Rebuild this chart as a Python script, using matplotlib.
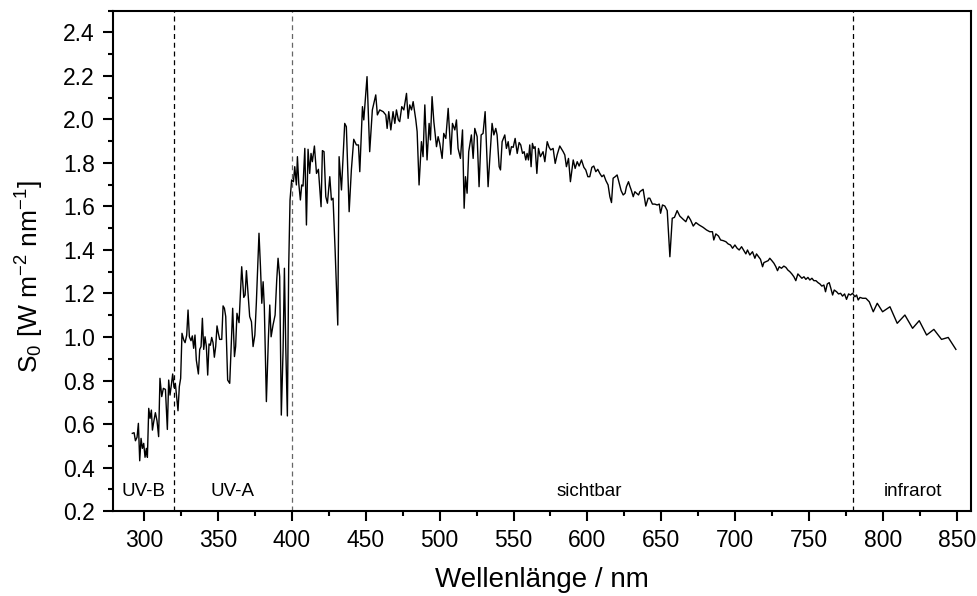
import matplotlib
matplotlib.use('Agg')
import matplotlib.pyplot as plt
from matplotlib.ticker import MultipleLocator, FormatStrFormatter

plt.rcParams['font.family'] = ['Liberation Sans', 'DejaVu Sans']
plt.rcParams['mathtext.default'] = 'regular'

# wavelength in nm
wavelength = [
    292.1, 293.3, 294.2, 295.3, 296.2, 297.1, 298.0, 298.9, 299.8, 300.7,
    301.6, 302.3, 303.2, 304.1, 305.0, 305.7, 306.6, 307.7, 308.8, 309.9,
    310.8, 312.0, 313.1, 314.5, 315.8, 316.7, 317.6, 318.5, 319.4, 320.3,
    321.2, 322.1, 323.0, 323.9, 324.8, 325.7, 326.9, 327.8, 328.9, 329.8,
    330.7, 331.8, 332.7, 333.6, 334.5, 335.4, 336.8, 337.7, 338.6, 339.5,
    340.4, 341.3, 342.2, 343.1, 344.0, 344.9, 345.8, 346.7, 347.6, 348.5,
    349.4, 350.3, 351.2, 352.6, 353.5, 354.4, 355.3, 356.6, 358.0, 358.9,
    360.0, 361.2, 362.0, 362.9, 364.3, 365.2, 366.1, 367.5, 368.4, 369.3,
    370.4, 371.5, 372.7, 373.8, 375.0, 376.0, 376.9, 377.8, 378.8, 379.7,
    380.6, 381.4, 382.8, 384.2, 385.1, 386.0, 387.3, 388.7, 389.8, 390.7,
    391.8, 392.9, 394.1, 395.0, 395.9, 397.0, 397.9, 398.8, 399.9, 401.1,
    402.0, 403.1, 403.8, 404.7, 405.8, 406.7, 407.6, 408.8, 409.9, 411.0,
    412.1, 413.0, 413.9, 415.3, 416.7, 418.0, 419.8, 420.7, 421.8, 423.0,
    424.1, 425.7, 426.8, 427.9, 429.3, 431.1, 432.0, 433.6, 435.8, 436.9,
    438.8, 440.3, 441.9, 443.7, 445.1, 446.0, 447.8, 448.7, 450.9, 452.7,
    454.5, 456.8, 457.9, 459.5, 461.8, 463.6, 464.5, 465.6, 467.0, 468.5,
    469.7, 470.8, 472.1, 473.0, 474.4, 475.8, 477.6, 478.7, 479.8, 481.0,
    482.1, 483.9, 484.8, 486.1, 487.7, 488.8, 490.0, 491.5, 492.9, 493.8,
    494.9, 496.1, 497.9, 499.0, 500.1, 501.7, 502.8, 504.2, 505.8, 507.6,
    508.7, 510.3, 511.4, 512.5, 514.1, 515.5, 516.6, 517.5, 518.6, 519.7,
    521.5, 522.7, 523.8, 525.4, 526.7, 528.1, 529.4, 530.8, 532.8, 533.9,
    535.5, 536.7, 538.0, 538.9, 540.3, 541.2, 542.3, 544.1, 545.2, 546.4,
    547.5, 548.6, 549.8, 551.1, 552.5, 553.8, 554.9, 556.1, 557.2, 558.3,
    559.2, 560.1, 561.0, 561.9, 562.8, 563.7, 564.6, 565.8, 566.9, 568.2,
    570.0, 571.2, 572.8, 574.1, 575.2, 576.8, 578.2, 579.5, 581.3, 583.6,
    584.7, 585.8, 587.2, 588.5, 590.4, 591.7, 593.1, 594.4, 596.0, 597.6,
    598.9, 600.3, 601.6, 603.0, 604.3, 605.7, 607.0, 608.4, 609.8, 611.1,
    612.5, 614.0, 615.2, 616.3, 617.4, 618.8, 620.1, 621.5, 622.8, 624.2,
    625.5, 626.4, 627.8, 628.7, 629.8, 631.0, 632.1, 633.2, 634.6, 635.5,
    637.7, 639.5, 641.1, 642.2, 644.0, 645.6, 647.2, 648.6, 649.5, 650.8,
    652.4, 654.0, 655.8, 657.4, 658.9, 660.7, 662.5, 664.8, 666.6, 668.2,
    669.8, 671.6, 673.4, 675.6, 678.3, 680.6, 682.8, 684.6, 685.5, 686.9,
    688.7, 690.1, 691.9, 693.7, 695.2, 696.8, 698.2, 699.8, 701.3, 702.7,
    704.3, 705.9, 707.2, 708.3, 709.9, 711.7, 713.3, 714.4, 715.8, 717.1,
    718.5, 719.4, 720.7, 722.3, 723.4, 724.8, 726.2, 727.5, 728.6, 729.8,
    731.3, 732.9, 734.3, 735.6, 737.0, 738.3, 739.7, 741.0, 742.4, 743.8,
    745.1, 746.5, 747.8, 749.2, 750.5, 751.9, 753.2, 754.6, 756.0, 757.3,
    758.6, 760.0, 761.1, 762.3, 763.6, 764.7, 765.9, 767.0, 768.6, 769.9,
    771.3, 772.6, 774.0, 775.3, 776.7, 778.0, 779.4, 781.0, 782.1, 783.2,
    784.4, 786.2, 788.4, 790.7, 793.4, 796.1, 799.7, 804.7, 809.6, 814.8,
    820.0, 824.5, 829.5, 834.4, 839.6, 844.1, 849.3,
]

# S0 in W m-2 nm-1
irradiance = [
    0.557, 0.560, 0.523, 0.539, 0.603, 0.431, 0.534, 0.488, 0.511, 0.447,
    0.488, 0.447, 0.672, 0.626, 0.664, 0.572, 0.611, 0.652, 0.615, 0.542,
    0.810, 0.726, 0.764, 0.759, 0.575, 0.802, 0.733, 0.779, 0.830, 0.769,
    0.787, 0.726, 0.661, 0.772, 0.810, 1.017, 0.986, 0.974, 1.009, 1.124,
    1.001, 0.983, 1.005, 0.948, 1.009, 0.894, 0.830, 0.943, 0.956, 1.086,
    0.943, 1.001, 0.956, 0.825, 0.968, 0.962, 0.998, 0.974, 0.907, 0.956,
    1.051, 1.017, 0.989, 0.989, 1.143, 1.132, 1.094, 0.802, 0.787, 0.940,
    1.132, 0.910, 0.956, 1.109, 1.066, 1.200, 1.323, 1.182, 1.193, 1.305,
    1.200, 1.094, 1.070, 0.956, 1.009, 1.155, 1.323, 1.477, 1.323, 1.155,
    1.254, 1.140, 0.703, 1.001, 1.147, 1.001, 1.055, 1.101, 1.262, 1.362,
    1.277, 0.641, 0.940, 1.316, 0.956, 0.637, 1.323, 1.630, 1.722, 1.714,
    1.783, 1.699, 1.829, 1.707, 1.630, 1.699, 1.694, 1.867, 1.515, 1.863,
    1.752, 1.844, 1.806, 1.878, 1.752, 1.771, 1.599, 1.857, 1.852, 1.645,
    1.615, 1.737, 1.630, 1.638, 1.400, 1.055, 1.829, 1.676, 1.982, 1.967,
    1.576, 1.768, 1.909, 1.883, 1.883, 1.760, 2.059, 1.998, 2.197, 1.852,
    2.044, 2.113, 2.021, 2.044, 2.036, 2.021, 1.959, 2.036, 1.952, 2.036,
    1.982, 2.044, 1.998, 1.990, 2.059, 2.044, 2.120, 2.005, 2.067, 2.044,
    2.082, 1.998, 1.944, 1.699, 1.898, 1.829, 2.067, 1.814, 1.982, 1.906,
    2.105, 1.990, 1.875, 1.921, 1.890, 1.821, 1.936, 1.913, 2.051, 1.840,
    1.982, 1.952, 1.998, 1.867, 1.821, 1.952, 1.592, 1.737, 1.661, 1.852,
    1.929, 1.821, 1.959, 1.921, 1.691, 1.929, 1.936, 2.036, 1.691, 1.814,
    1.982, 1.929, 1.959, 1.929, 1.783, 1.768, 1.898, 1.929, 1.867, 1.898,
    1.837, 1.875, 1.872, 1.913, 1.844, 1.894, 1.883, 1.844, 1.852, 1.814,
    1.844, 1.814, 1.883, 1.783, 1.890, 1.867, 1.875, 1.752, 1.867, 1.829,
    1.852, 1.806, 1.898, 1.872, 1.860, 1.867, 1.798, 1.837, 1.878, 1.852,
    1.837, 1.783, 1.821, 1.714, 1.814, 1.775, 1.806, 1.786, 1.814, 1.780,
    1.768, 1.737, 1.737, 1.780, 1.786, 1.760, 1.771, 1.752, 1.737, 1.745,
    1.719, 1.699, 1.645, 1.618, 1.730, 1.737, 1.745, 1.707, 1.673, 1.653,
    1.661, 1.691, 1.714, 1.694, 1.673, 1.645, 1.668, 1.661, 1.653, 1.668,
    1.679, 1.602, 1.638, 1.638, 1.611, 1.611, 1.607, 1.611, 1.569, 1.607,
    1.602, 1.581, 1.369, 1.546, 1.550, 1.581, 1.556, 1.541, 1.530, 1.556,
    1.538, 1.510, 1.526, 1.515, 1.504, 1.492, 1.484, 1.484, 1.446, 1.474,
    1.464, 1.446, 1.443, 1.438, 1.428, 1.423, 1.408, 1.423, 1.408, 1.400,
    1.415, 1.397, 1.382, 1.400, 1.377, 1.392, 1.362, 1.382, 1.369, 1.357,
    1.323, 1.342, 1.346, 1.351, 1.362, 1.351, 1.339, 1.323, 1.305, 1.323,
    1.316, 1.326, 1.320, 1.308, 1.300, 1.290, 1.277, 1.259, 1.290, 1.280,
    1.270, 1.277, 1.265, 1.274, 1.262, 1.270, 1.259, 1.259, 1.250, 1.244,
    1.234, 1.239, 1.208, 1.244, 1.250, 1.224, 1.193, 1.216, 1.208, 1.198,
    1.201, 1.188, 1.198, 1.173, 1.198, 1.193, 1.201, 1.185, 1.193, 1.170,
    1.182, 1.178, 1.178, 1.162, 1.116, 1.155, 1.116, 1.139, 1.063, 1.101,
    1.040, 1.075, 1.009, 1.035, 0.989, 0.998, 0.943,
]

# region borders and names
borders = [320, 400, 780]
border_colors = ['black', '#666666', 'black']
regions = ['UV-B', 'UV-A', 'sichtbar', 'infrarot']
region_centers = [299.5, 360, 601.5, 820]

fig, ax = plt.subplots(figsize=(9.78, 5.96), dpi=100)
fig.subplots_adjust(left=0.1155, right=0.9928, top=0.982, bottom=0.1426)

ax.plot(wavelength, irradiance, color='black', linewidth=1.0)

for b, c in zip(borders, border_colors):
    ax.axvline(b, color=c, linestyle=(0, (4, 3)), linewidth=0.9)

for name, xc in zip(regions, region_centers):
    ax.text(xc, 0.29, name, ha='center', va='center', fontsize=13.5)

ax.set_xlim(279, 859.5)
ax.set_ylim(0.2, 2.5)
ax.xaxis.set_major_locator(MultipleLocator(50))
ax.xaxis.set_minor_locator(MultipleLocator(25))
ax.yaxis.set_major_locator(MultipleLocator(0.2))
ax.yaxis.set_minor_locator(MultipleLocator(0.1))
ax.yaxis.set_major_formatter(FormatStrFormatter('%.1f'))

for s in ax.spines.values():
    s.set_linewidth(1.5)
ax.tick_params(which='major', direction='out', length=7, width=1.5,
               labelsize=16.5, pad=6)
ax.tick_params(which='minor', direction='out', length=3.5, width=1.5)

ax.set_xlabel('Wellenlänge / nm', fontsize=20)
ax.set_ylabel('S$_0$ [W m$^{-2}$ nm$^{-1}$]', fontsize=19)
ax.xaxis.set_label_coords(0.5, -0.112)
ax.yaxis.set_label_coords(-0.078, 0.468)

fig.savefig('out.png', dpi=100)
